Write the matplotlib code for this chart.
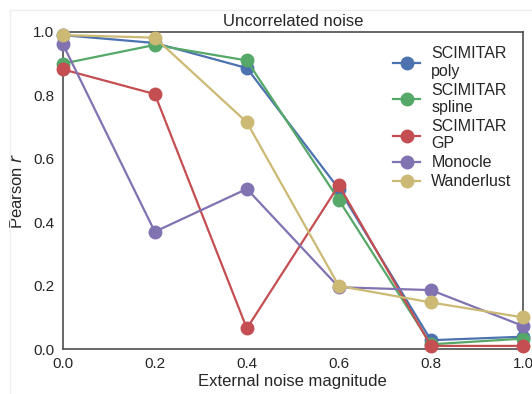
import numpy as np
import matplotlib
matplotlib.use("Agg")
import matplotlib.pyplot as plt
from matplotlib.lines import Line2D

noise = [0.0, 0.2, 0.4, 0.6, 0.8, 1.0]
scimitar_poly = [0.99, 0.965, 0.886, 0.505, 0.028, 0.039]
scimitar_spline = [0.90, 0.959, 0.91, 0.47, 0.015, 0.033]
scimitar_gp = [0.882, 0.804, 0.065, 0.517, 0.01, 0.01]
monocle = [0.962, 0.37, 0.505, 0.195, 0.186, 0.073]
wanderlust = [0.99, 0.982, 0.715, 0.199, 0.147, 0.10]

labels = ['SCIMITAR\npoly', 'SCIMITAR\nspline', 'SCIMITAR\nGP', 'Monocle', 'Wanderlust']
colors = ['#4C72B0', '#55A868', '#C44E52', '#8172B2', '#CCB974']

plt.rcParams['font.family'] = ['Liberation Sans', 'DejaVu Sans']
plt.rcParams['text.color'] = '#262626'
plt.rcParams['axes.labelcolor'] = '#262626'
plt.rcParams['xtick.color'] = '#262626'
plt.rcParams['ytick.color'] = '#262626'

fig = plt.figure(figsize=(5.32, 3.94), dpi=100)
ax = fig.add_axes([0.118, 0.114, 0.865, 0.805])

series = [scimitar_poly, scimitar_spline, scimitar_gp, monocle, wanderlust]
for vals, lab, c in zip(series, labels, colors):
    ax.plot(noise, vals, '-o', color=c, label=lab, linewidth=1.6,
            markersize=9, clip_on=False, zorder=3)

ax.set_xlim(0, 1.0)
ax.set_ylim(0, 1.0)
ax.set_xticks([0.0, 0.2, 0.4, 0.6, 0.8, 1.0])
ax.set_yticks([0.0, 0.2, 0.4, 0.6, 0.8, 1.0])
ax.tick_params(labelsize=11, length=0, pad=6)
for s in ax.spines.values():
    s.set_color('#4d4d4d')
    s.set_linewidth(1.2)

ax.set_title('Uncorrelated noise', fontsize=12, pad=4)
ax.set_xlabel('External noise magnitude', fontsize=12, labelpad=2)
ax.set_ylabel('Pearson $r$', fontsize=12, labelpad=6)

ax.legend(loc='upper right', frameon=False, fontsize=11.5, handlelength=1.7,
          handletextpad=0.7, labelspacing=0.25, borderaxespad=0.3,
          bbox_to_anchor=(1.0, 0.99))

# faint frame of the original screenshot
fig.add_artist(Line2D([0.019, 0.019], [0.0, 0.975], color='#eeeeee', lw=1,
                      transform=fig.transFigure))
fig.add_artist(Line2D([0.019, 1.0], [0.975, 0.975], color='#eeeeee', lw=1,
                      transform=fig.transFigure))

fig.savefig('out.png', dpi=100)
